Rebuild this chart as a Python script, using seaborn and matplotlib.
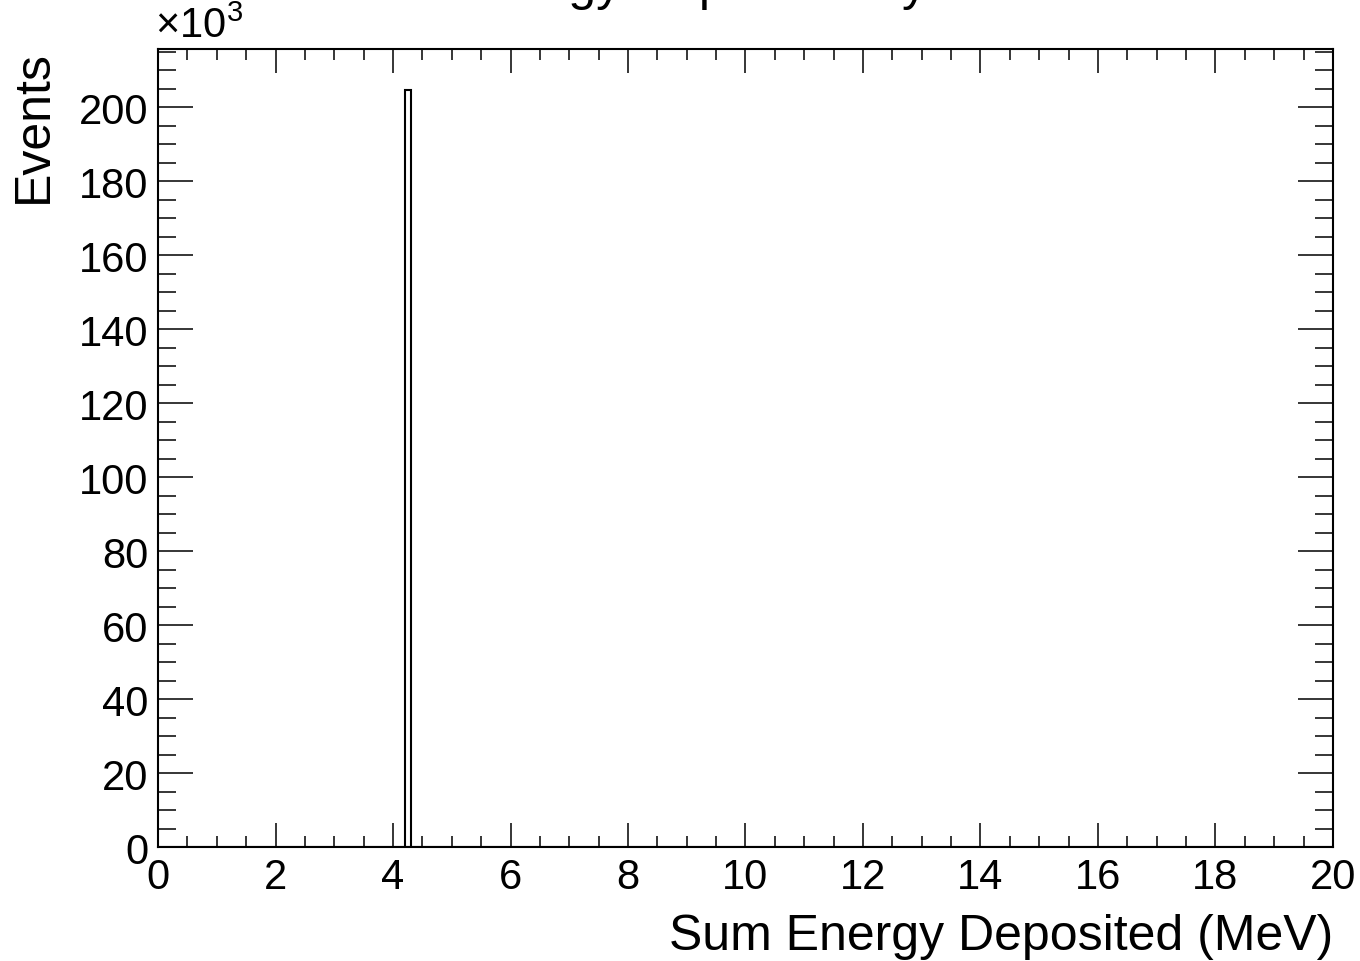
import matplotlib
matplotlib.use("Agg")
import matplotlib.pyplot as plt
from matplotlib.ticker import MultipleLocator, FuncFormatter
import numpy as np
import seaborn as sns

# reconstructed histogram content (one filled bin, 0.1 MeV wide)
energy_mev = [4.25]
events = [204700]
n_bins = 200
x_range = (0, 20)
y_max = 215700

sns.set_theme(style="white")
plt.rcParams["font.family"] = ["Liberation Sans", "DejaVu Sans"]
plt.rcParams["mathtext.fontset"] = "custom"
plt.rcParams["mathtext.rm"] = "Liberation Sans"
plt.rcParams["text.color"] = "black"
plt.rcParams["axes.labelcolor"] = "black"
plt.rcParams["xtick.color"] = "black"
plt.rcParams["ytick.color"] = "black"

fig = plt.figure(figsize=(13.6, 9.62), dpi=100)
ax = fig.add_axes([0.1162, 0.1185, 0.8639, 0.8295])

sns.histplot(x=energy_mev, weights=events, bins=n_bins, binrange=x_range,
             element="bars", fill=False, color="black", linewidth=1.5, ax=ax)

ax.set_xlim(*x_range)
ax.set_ylim(0, y_max)
ax.xaxis.set_major_locator(MultipleLocator(2))
ax.xaxis.set_minor_locator(MultipleLocator(0.5))
ax.yaxis.set_major_locator(MultipleLocator(20000))
ax.yaxis.set_minor_locator(MultipleLocator(5000))
ax.yaxis.set_major_formatter(FuncFormatter(lambda v, p: f"{v / 1000:g}"))
ax.xaxis.set_major_formatter(FuncFormatter(lambda v, p: f"{v:g}"))

ax.tick_params(which="both", direction="in", top=True, right=True,
               bottom=True, left=True, width=1.1, labelsize=30)
ax.tick_params(axis="x", which="major", length=17, pad=7)
ax.tick_params(axis="x", which="minor", length=8)
ax.tick_params(axis="y", which="major", length=25, pad=7)
ax.tick_params(axis="y", which="minor", length=13)
for s in ax.spines.values():
    s.set_color("black")
    s.set_linewidth(1.5)

ax.set_xlabel("Sum Energy Deposited (MeV)", fontsize=36, ha="right", x=1.0,
              labelpad=12)
ax.set_ylabel("Events", fontsize=36, ha="right", y=1.0, labelpad=16)
ax.text(-0.003, 1.004, r"$\times10^{3}$", transform=ax.transAxes,
        fontsize=30, ha="left", va="bottom")

# title sits mostly above the canvas, only the descenders show
fig.text(0.52, 1.0, "Sum Energy Deposited by Event", fontsize=36,
         ha="center", va="baseline")

fig.savefig("out.png", dpi=100, facecolor="white")
